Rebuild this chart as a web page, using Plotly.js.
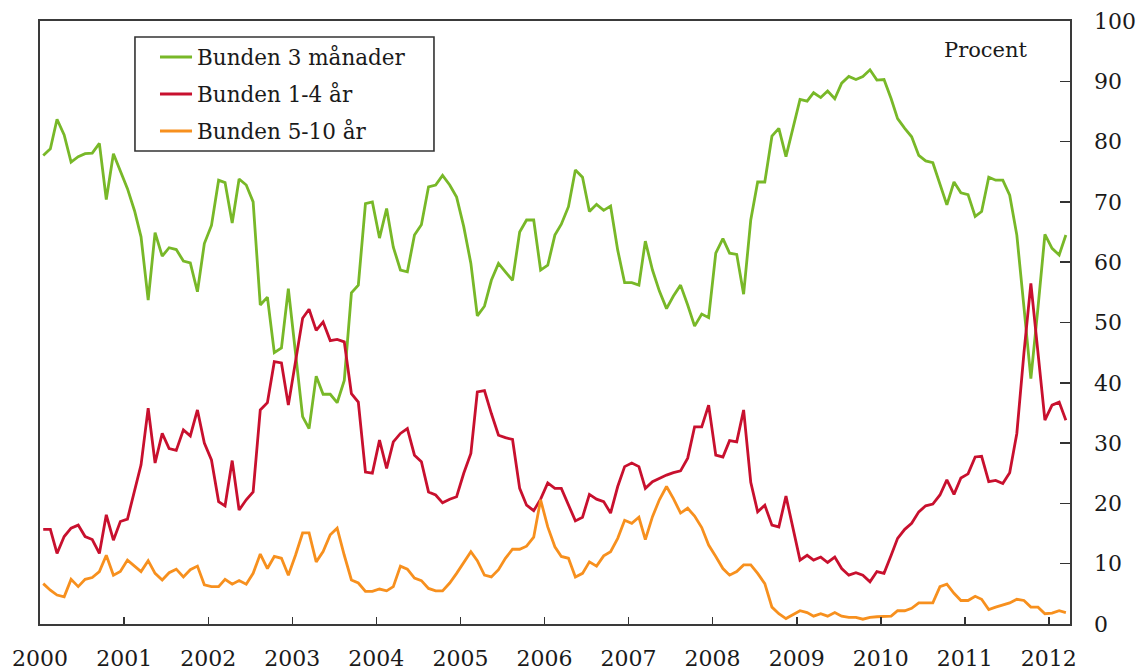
<!DOCTYPE html>
<html>
<head>
<meta charset="utf-8">
<script src="https://cdn.plot.ly/plotly-3.0.1.min.js"></script>
<style>html,body{margin:0;padding:0;background:#fff;}#chart{width:1146px;height:670px;}</style>
</head>
<body>
<div id="chart"></div>
<script>
// Monthly observations, January 2000 to March 2012
var startYear = 2000;
var nMonths = 147;
var seriesNames = ["Bunden 3 månader", "Bunden 1-4 år", "Bunden 5-10 år"];
var yearTicks = ["2000","2001","2002","2003","2004","2005","2006","2007","2008","2009","2010","2011","2012"];

var bunden3man = [
 77.7, 78.8, 83.7, 81.1, 76.6, 77.5, 78.0, 78.1, 79.7, 70.4, 78.0, 75.0,
 72.2, 68.5, 64.2, 53.7, 64.9, 61.0, 62.4, 62.1, 60.2, 59.9, 55.1, 63.1,
 66.1, 73.6, 73.2, 66.5, 73.8, 72.8, 70.0, 52.9, 54.2, 45.0, 45.8, 55.6,
 45.0, 34.4, 32.4, 41.1, 38.1, 38.1, 36.7, 40.4, 54.9, 56.2, 69.7, 70.0,
 64.0, 68.9, 62.5, 58.7, 58.4, 64.5, 66.2, 72.5, 72.8, 74.4, 72.8, 70.8,
 65.9, 59.8, 51.1, 52.7, 57.0, 59.8, 58.4, 57.0, 65.0, 67.0, 67.0, 58.7,
 59.5, 64.5, 66.3, 69.2, 75.3, 74.1, 68.4, 69.6, 68.6, 69.3, 62.0, 56.6,
 56.6, 56.2, 63.5, 58.7, 55.2, 52.3, 54.4, 56.2, 52.9, 49.4, 51.4, 50.8,
 61.5, 63.9, 61.5, 61.3, 54.7, 67.0, 73.3, 73.3, 80.9, 82.2, 77.5, 82.4,
 87.0, 86.7, 88.1, 87.3, 88.4, 87.1, 89.7, 90.8, 90.3, 90.8, 91.9, 90.2,
 90.3, 87.1, 83.8, 82.2, 80.8, 77.7, 76.8, 76.5, 73.0, 69.5, 73.3, 71.5,
 71.2, 67.6, 68.4, 74.1, 73.6, 73.6, 71.1, 64.5, 52.5, 40.7, 52.5, 64.6,
 62.3, 61.2, 64.5
];
var bunden1_4 = [
 15.7, 15.7, 11.7, 14.5, 15.9, 16.4, 14.5, 14.0, 11.7, 18.1, 13.9, 17.0,
 17.4, 22.2, 26.4, 35.8, 26.7, 31.6, 29.1, 28.8, 32.2, 31.2, 35.5, 30.0,
 27.2, 20.3, 19.6, 27.1, 18.9, 20.6, 21.9, 35.5, 36.7, 43.5, 43.3, 36.3,
 43.5, 50.7, 52.2, 48.7, 50.1, 47.0, 47.2, 46.8, 38.2, 36.8, 25.2, 25.0,
 30.5, 25.8, 30.2, 31.6, 32.4, 28.0, 26.9, 21.9, 21.4, 20.1, 20.7, 21.1,
 25.0, 28.3, 38.5, 38.7, 34.9, 31.3, 30.9, 30.6, 22.5, 19.7, 18.8, 20.7,
 23.4, 22.5, 22.5, 19.7, 17.1, 17.7, 21.5, 20.7, 20.3, 18.4, 22.8, 26.1,
 26.7, 26.1, 22.5, 23.6, 24.2, 24.7, 25.1, 25.4, 27.5, 32.7, 32.7, 36.3,
 28.0, 27.7, 30.4, 30.2, 35.5, 23.5, 18.6, 19.7, 16.4, 16.1, 21.2, 15.9,
 10.6, 11.4, 10.6, 11.1, 10.2, 11.1, 9.2, 8.1, 8.5, 8.1, 7.0, 8.7,
 8.4, 11.4, 14.2, 15.7, 16.7, 18.6, 19.6, 19.9, 21.4, 23.9, 21.5, 24.2,
 24.9, 27.7, 27.8, 23.6, 23.8, 23.3, 25.1, 31.6, 45.0, 56.5, 45.0, 33.8,
 36.3, 36.8, 33.8
];
var bunden5_10 = [
 6.7, 5.6, 4.8, 4.5, 7.4, 6.2, 7.4, 7.7, 8.7, 11.4, 8.1, 8.7,
 10.6, 9.6, 8.7, 10.5, 8.4, 7.3, 8.5, 9.1, 7.8, 9.0, 9.6, 6.5,
 6.2, 6.2, 7.4, 6.6, 7.2, 6.6, 8.4, 11.6, 9.2, 11.2, 10.9, 8.1,
 11.4, 15.1, 15.1, 10.3, 12.0, 14.8, 15.9, 11.4, 7.3, 6.8, 5.4, 5.4,
 5.8, 5.5, 6.2, 9.6, 9.1, 7.6, 7.2, 5.9, 5.5, 5.5, 6.8, 8.4,
 10.3, 12.0, 10.5, 8.1, 7.8, 9.0, 10.9, 12.4, 12.4, 12.9, 14.4, 20.6,
 16.1, 12.8, 11.2, 10.9, 7.8, 8.4, 10.3, 9.6, 11.3, 12.0, 14.2, 17.2,
 16.7, 17.7, 14.0, 17.8, 20.6, 22.8, 20.8, 18.4, 19.2, 17.9, 16.0, 13.1,
 11.2, 9.2, 8.1, 8.7, 9.8, 9.8, 8.4, 6.7, 2.8, 1.7, 0.9, 1.5,
 2.2, 1.9, 1.3, 1.7, 1.3, 1.9, 1.3, 1.1, 1.1, 0.8, 1.1, 1.2,
 1.2, 1.3, 2.2, 2.2, 2.6, 3.5, 3.5, 3.5, 6.2, 6.6, 5.1, 3.9,
 3.9, 4.6, 4.1, 2.4, 2.8, 3.1, 3.5, 4.1, 3.9, 2.8, 2.8, 1.7,
 1.8, 2.2, 1.9
];

function pad(n){ return (n < 10 ? "0" : "") + n; }
var months = [];
for (var i = 0; i < nMonths; i++) {
  var y = startYear + Math.floor(i / 12);
  var m = (i % 12) + 1;
  months.push(y + "-" + pad(m) + "-15");
}
var yearTickVals = yearTicks.map(function(t){ return t + "-01-01"; });

var serif = "DejaVu Serif, Liberation Serif, serif";
var textColor = "#1a1a1a";
var colors = ["#78b828", "#c8102e", "#f7901e"];
var values = [bunden3man, bunden1_4, bunden5_10];

var traces = values.map(function(v, k){
  return {
    x: months, y: v, type: "scatter", mode: "lines",
    name: seriesNames[k],
    line: {color: colors[k], width: 2.8},
    hoverinfo: "x+y+name"
  };
});

// Legend box drawn in paper coordinates (inside the plot, top-left)
var legBox = {x0: 0.0922, x1: 0.3825, y0: 0.7844, y1: 0.9735};
var legRows = [0.9403, 0.8789, 0.8176];
var shapes = [{
  type: "rect", xref: "paper", yref: "paper",
  x0: legBox.x0, x1: legBox.x1, y0: legBox.y0, y1: legBox.y1,
  line: {color: "#333333", width: 1.6}, fillcolor: "#ffffff", layer: "above"
}];
var annotations = [{
  xref: "paper", yref: "paper", x: 0.876, y: 0.952,
  xanchor: "left", yanchor: "middle", showarrow: false,
  text: "Procent", font: {family: serif, size: 21, color: textColor}
}];
seriesNames.forEach(function(nm, k){
  shapes.push({
    type: "line", xref: "paper", yref: "paper",
    x0: 0.1165, x1: 0.1476, y0: legRows[k], y1: legRows[k],
    line: {color: colors[k], width: 2.8}, layer: "above"
  });
  annotations.push({
    xref: "paper", yref: "paper", x: 0.1505, y: legRows[k],
    xanchor: "left", yanchor: "middle", showarrow: false,
    text: nm, font: {family: serif, size: 21.5, color: textColor}
  });
});

var layout = {
  width: 1146, height: 670,
  margin: {l: 40, r: 76, t: 21, b: 46, pad: 0},
  paper_bgcolor: "#ffffff", plot_bgcolor: "#ffffff",
  showlegend: false,
  xaxis: {
    type: "date",
    range: ["2000-01-01", "2012-04-02"],
    tickmode: "array", tickvals: yearTickVals, ticktext: yearTicks,
    ticks: "inside", ticklen: 7, tickwidth: 1.5, tickcolor: "#333333",
    showline: true, mirror: true, linecolor: "#3a3a3a", linewidth: 1.6,
    showgrid: false, zeroline: false,
    tickfont: {family: serif, size: 22, color: textColor},
    ticklabelstandoff: 14
  },
  yaxis: {
    side: "right",
    range: [0, 100], dtick: 10, tick0: 0,
    ticks: "inside", ticklen: 10, tickwidth: 1.5, tickcolor: "#333333",
    showline: true, mirror: true, linecolor: "#3a3a3a", linewidth: 1.6,
    showgrid: false, zeroline: false,
    tickfont: {family: serif, size: 22, color: textColor},
    ticklabelstandoff: 18
  },
  shapes: shapes,
  annotations: annotations
};

Plotly.newPlot("chart", traces, layout, {displayModeBar: false, staticPlot: true});
</script>
</body>
</html>
